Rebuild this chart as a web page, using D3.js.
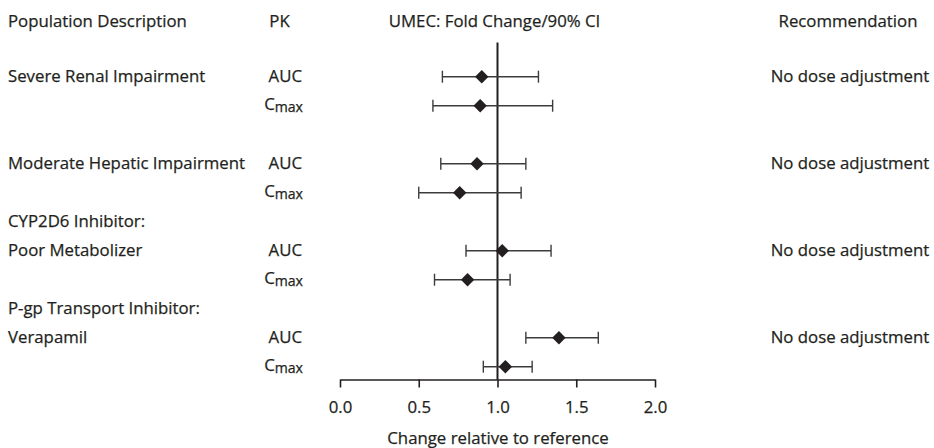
<!DOCTYPE html>
<html>
<head>
<meta charset="utf-8">
<script src="https://cdn.jsdelivr.net/npm/d3@7"></script>
<style>
  body { margin: 0; background: #fff; }
  svg text { font-family: "Open Sans", "Noto Sans", sans-serif; fill: #231f20; stroke: #231f20; stroke-width: 0.25px; }
</style>
</head>
<body>
<div id="chart"></div>
<script>
// one slot per text row, top to bottom
var rowLabels = ["Severe Renal Impairment", "", "", "Moderate Hepatic Impairment", "",
  "CYP2D6 Inhibitor:", "Poor Metabolizer", "", "P-gp Transport Inhibitor:", "Verapamil", ""];
var pkParams = ["AUC", "Cmax", null, "AUC", "Cmax", null, "AUC", "Cmax", null, "AUC", "Cmax"];
var pointEst = [0.90, 0.89, null, 0.87, 0.76, null, 1.03, 0.81, null, 1.39, 1.05];
var ciLower  = [0.65, 0.59, null, 0.64, 0.50, null, 0.80, 0.60, null, 1.18, 0.91];
var ciUpper  = [1.26, 1.35, null, 1.18, 1.15, null, 1.34, 1.08, null, 1.64, 1.22];
var recommendations = ["No dose adjustment", "", "", "No dose adjustment", "", "",
  "No dose adjustment", "", "", "No dose adjustment", ""];
var tickValues = [0, 0.5, 1.0, 1.5, 2.0];

var width = 934, height = 448;
var fontSize = 16.8;

var svg = d3.select("#chart").append("svg")
  .attr("width", width)
  .attr("height", height);

var x = d3.scaleLinear().domain([0, 2]).range([340, 655]);
var y = d3.scalePoint().domain(d3.range(rowLabels.length)).range([76.7, 366.7]);
var axisY = 379.5;

//headers
var header = svg.append("g").attr("class", "headers").style("font-size", fontSize + "px");
header.append("text").attr("x", 8).attr("y", 27).text("Population Description");
header.append("text").attr("x", 279.5).attr("y", 27).attr("text-anchor", "middle").text("PK");
header.append("text").attr("x", 494.5).attr("y", 27).attr("text-anchor", "middle").text("UMEC: Fold Change/90% CI");
header.append("text").attr("x", 848).attr("y", 27).attr("text-anchor", "middle").text("Recommendation");

//left labels, pk column and recommendation
var rows = svg.append("g").style("font-size", fontSize + "px");
rowLabels.forEach(function (label, i) {
  if (label) rows.append("text").attr("x", 8).attr("y", y(i) + 5).text(label);
  if (recommendations[i]) rows.append("text")
    .attr("x", 850).attr("y", y(i) + 5)
    .attr("text-anchor", "middle")
    .text(recommendations[i]);
  var pk = pkParams[i];
  if (pk == "AUC") {
    rows.append("text").attr("x", 302).attr("y", y(i) + 5).attr("text-anchor", "end").text("AUC");
  } else if (pk == "Cmax") {
    var t = rows.append("text").attr("x", 303).attr("y", y(i) + 4).attr("text-anchor", "end");
    t.append("tspan").text("C");
    t.append("tspan").attr("dy", 2).style("font-size", (fontSize * 0.84) + "px").text("max");
  }
});

//reference line at 1
svg.append("line")
  .attr("x1", x(1)).attr("x2", x(1))
  .attr("y1", 42.5).attr("y2", axisY)
  .attr("stroke", "#231f20")
  .attr("stroke-width", 2);

//intervals
var idx = d3.range(pointEst.length).filter(function (i) { return pointEst[i] != null; });
var ci = svg.append("g").attr("stroke", "#3c3c3c").attr("stroke-width", 1.4).attr("fill", "none");
idx.forEach(function (i) {
  var cy = y(i);
  ci.append("line").attr("x1", x(ciLower[i])).attr("x2", x(ciUpper[i])).attr("y1", cy).attr("y2", cy);
  ci.append("line").attr("x1", x(ciLower[i])).attr("x2", x(ciLower[i])).attr("y1", cy - 6).attr("y2", cy + 6);
  ci.append("line").attr("x1", x(ciUpper[i])).attr("x2", x(ciUpper[i])).attr("y1", cy - 6).attr("y2", cy + 6);
});

var diamond = d3.symbol().type(d3.symbolDiamond2).size(115);
svg.append("g").selectAll("path")
  .data(idx)
  .join("path")
  .attr("d", diamond)
  .attr("transform", function (i) { return "translate(" + x(pointEst[i]) + "," + y(i) + ")"; })
  .attr("fill", "#231f20");

//x axis
var axis = svg.append("g")
  .attr("transform", "translate(0," + axisY + ")")
  .call(d3.axisBottom(x)
    .tickValues(tickValues)
    .tickFormat(d3.format(".1f"))
    .tickSize(8)
    .tickSizeOuter(0)
    .tickPadding(14));
axis.select(".domain").attr("stroke", "#231f20").attr("stroke-width", 1.6);
axis.selectAll(".tick line").attr("stroke", "#231f20").attr("stroke-width", 1.6);
axis.selectAll(".tick text")
  .style("font-family", "\"Open Sans\", sans-serif")
  .style("font-size", fontSize + "px")
  .attr("fill", "#231f20");

svg.append("text")
  .attr("x", 498).attr("y", 444)
  .attr("text-anchor", "middle")
  .style("font-size", fontSize + "px")
  .text("Change relative to reference");
</script>
</body>
</html>
